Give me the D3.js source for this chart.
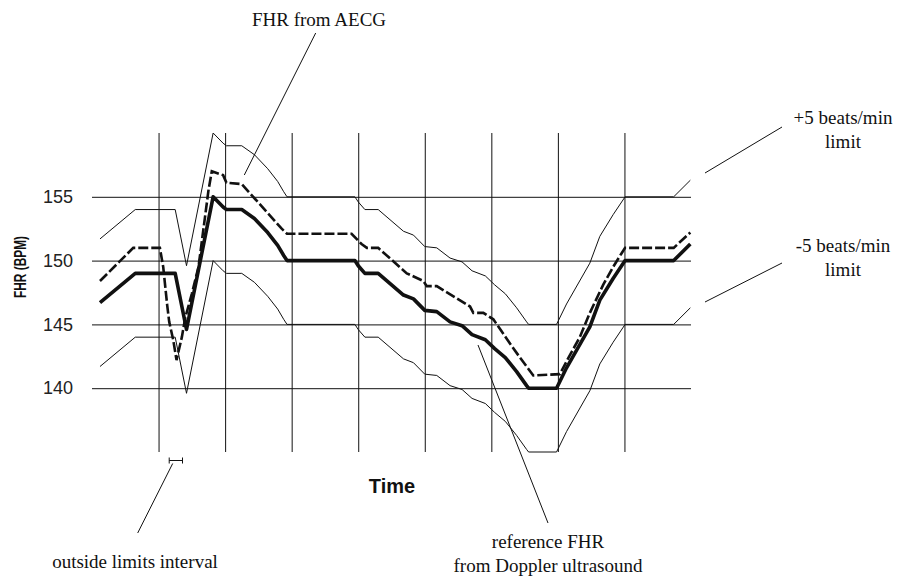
<!DOCTYPE html>
<html>
<head>
<meta charset="utf-8">
<script src="https://cdn.jsdelivr.net/npm/d3@7/dist/d3.min.js"></script>
<style>
  html, body { margin: 0; padding: 0; background: #fff; }
  svg { display: block; }
</style>
</head>
<body>
<div id="chart"></div>
<script>
// reference FHR (Doppler ultrasound), time in grid units
const refTime = [0.12, 0.65, 1.25, 1.42, 1.82, 1.97, 2.02, 2.25, 2.44, 2.64, 2.79, 2.88, 2.93,
  3.95, 4.00, 4.10, 4.30, 4.68, 4.83, 5.00, 5.18, 5.38, 5.56, 5.71, 5.91, 6.05, 6.21, 6.38,
  6.53, 6.56, 6.98, 7.13, 7.48, 7.63, 7.83, 8.01, 8.74, 8.99];
const refFHR = [146.7, 149.0, 149.0, 144.6, 155.0, 154.2, 154.0, 154.0, 153.3, 152.2, 151.2, 150.4, 150.0,
  150.0, 149.6, 149.0, 149.0, 147.3, 147.0, 146.1, 146.0, 145.2, 144.9, 144.2, 143.8, 143.1, 142.4, 141.3,
  140.2, 140.0, 140.0, 141.6, 144.8, 146.9, 148.6, 150.0, 150.0, 151.3];

// FHR from AECG
const aecgTime = [0.12, 0.62, 1.02, 1.07, 1.13, 1.16, 1.22, 1.27, 1.35, 1.40, 1.50, 1.60, 1.67, 1.75,
  1.80, 1.97, 2.02, 2.25, 2.85, 2.93, 3.90, 4.05, 4.13, 4.30, 4.73, 4.98, 5.03, 5.18, 5.68, 5.73,
  5.88, 6.03, 6.28, 6.43, 6.63, 7.03, 7.16, 7.33, 7.48, 7.68, 7.83, 7.96, 8.01, 8.74, 8.99];
const aecgFHR = [148.4, 151.0, 151.0, 149.5, 146.5, 145.2, 143.8, 142.2, 144.0, 145.5, 147.4, 149.5, 152.3, 155.5,
  157.0, 156.7, 156.1, 156.0, 152.5, 152.1, 152.1, 151.3, 151.0, 151.0, 149.0, 148.4, 148.0, 148.0, 146.4, 145.9,
  145.9, 145.4, 143.5, 142.4, 141.0, 141.1, 142.4, 144.0, 145.9, 148.1, 149.5, 150.6, 151.0, 151.0, 152.2];

const LIMIT = 5; // beats/min band around the reference
const yTicks = [140, 145, 150, 155];
const timeTicks = [1, 2, 3, 4, 5, 6, 7, 8];
const outsideInterval = [1.16, 1.36];

const W = 899, H = 579;
const svg = d3.select("#chart").append("svg")
    .attr("width", W)
    .attr("height", H);

const x = d3.scaleLinear().domain([0, 9]).range([92, 691]);
const y = d3.scaleLinear().domain([135, 160]).range([452, 133]);

const ink = "#111";

// horizontal grid + labels
const yAxis = svg.append("g")
    .attr("transform", `translate(${x(0)},0)`)
    .call(d3.axisLeft(y).tickValues(yTicks).tickSize(-(x(9) - x(0))).tickPadding(19));
yAxis.select(".domain").remove();
yAxis.selectAll(".tick line").attr("stroke", ink).attr("stroke-width", 1);
yAxis.selectAll(".tick text")
    .attr("fill", "#222")
    .style("font-family", "'Liberation Sans', Arial, sans-serif")
    .style("font-size", "18px");

// vertical time lines
const xAxis = svg.append("g")
    .attr("transform", `translate(0,${y(135)})`)
    .call(d3.axisBottom(x).tickValues(timeTicks).tickSize(-(y(135) - y(160))).tickFormat(""));
xAxis.select(".domain").remove();
xAxis.selectAll(".tick line").attr("stroke", ink).attr("stroke-width", 1);

const ref = refTime.map((t, i) => ({t, v: refFHR[i]}));
const aecg = aecgTime.map((t, i) => ({t, v: aecgFHR[i]}));

const line = d3.line().x(d => x(d.t)).y(d => y(d.v));

// +/- 5 beats/min limits
[LIMIT, -LIMIT].forEach(off => {
  svg.append("path")
      .datum(ref.map(d => ({t: d.t, v: d.v + off})))
      .attr("d", line)
      .attr("fill", "none")
      .attr("stroke", ink)
      .attr("stroke-width", 1);
});

svg.append("path")
    .datum(aecg)
    .attr("d", line)
    .attr("fill", "none")
    .attr("stroke", ink)
    .attr("stroke-width", 2.6)
    .attr("stroke-dasharray", "10,3");

svg.append("path")
    .datum(ref)
    .attr("d", line)
    .attr("fill", "none")
    .attr("stroke", ink)
    .attr("stroke-width", 3.6)
    .attr("stroke-linejoin", "round");

// axis titles
svg.append("text")
    .attr("transform", "translate(25.5,267) rotate(-90)")
    .attr("text-anchor", "middle")
    .attr("textLength", 62)
    .attr("lengthAdjust", "spacingAndGlyphs")
    .style("font-family", "'Liberation Sans', Arial, sans-serif")
    .style("font-weight", "bold")
    .style("font-size", "17px")
    .attr("fill", ink)
    .text("FHR (BPM)");

svg.append("text")
    .attr("x", 392).attr("y", 493)
    .attr("text-anchor", "middle")
    .style("font-family", "'Liberation Sans', Arial, sans-serif")
    .style("font-weight", "bold")
    .style("font-size", "20px")
    .attr("fill", ink)
    .text("Time");

// outside limits interval marker
const iy = 460.5;
const marker = svg.append("g").attr("stroke", ink).attr("stroke-width", 1);
marker.append("line").attr("x1", x(outsideInterval[0])).attr("x2", x(outsideInterval[1])).attr("y1", iy).attr("y2", iy);
outsideInterval.forEach(t => {
  marker.append("line").attr("x1", x(t)).attr("x2", x(t)).attr("y1", iy - 3).attr("y2", iy + 3);
});

// annotations
const notes = [
  {lines: ["FHR from AECG"], x: 319, y: 26, from: [315.7, 33], to: [244.3, 175]},
  {lines: ["+5 beats/min", "limit"], x: 843, y: 124, from: [782, 127], to: [705, 173]},
  {lines: ["-5 beats/min", "limit"], x: 843, y: 252, from: [782, 263], to: [705, 302]},
  {lines: ["outside limits interval"], x: 135, y: 568, from: [137.7, 533], to: [172.7, 463.5]},
  {lines: ["reference FHR", "from Doppler ultrasound"], x: 548, y: 548, from: [548, 523], to: [478, 345]}
];

notes.forEach(n => {
  svg.append("line")
      .attr("x1", n.from[0]).attr("y1", n.from[1])
      .attr("x2", n.to[0]).attr("y2", n.to[1])
      .attr("stroke", ink).attr("stroke-width", 1);
  const t = svg.append("text")
      .attr("text-anchor", "middle")
      .style("font-family", "'Liberation Serif', 'Times New Roman', serif")
      .style("font-size", "19px")
      .attr("fill", ink);
  n.lines.forEach((s, i) => {
    t.append("tspan").attr("x", n.x).attr("y", n.y + i * 24).text(s);
  });
});
</script>
</body>
</html>
